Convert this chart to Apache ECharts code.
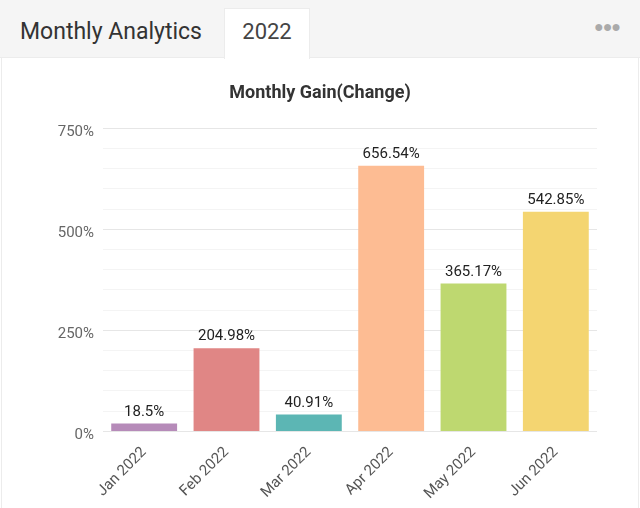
<!DOCTYPE html>
<html>
<head>
<meta charset="utf-8">
<script src="https://cdn.jsdelivr.net/npm/echarts@6/dist/echarts.min.js"></script>
<style>
  html, body { margin: 0; padding: 0; background: #fff; }
  body { width: 640px; height: 508px; position: relative; overflow: hidden; font-family: Roboto, "Noto Sans", sans-serif; }
  .header { position: absolute; left: 0; top: 0; width: 640px; height: 58px; background: #f5f5f5; border-bottom: 1px solid #ececec; box-sizing: border-box; }
  .title { position: absolute; left: 20px; top: 18px; font-size: 23px; color: #333; white-space: nowrap; }
  .tab { position: absolute; left: 224px; top: 8px; width: 86px; height: 51px; background: #fff; border: 1px solid #ececec; border-bottom: none; box-sizing: border-box; text-align: center; line-height: 46px; font-size: 22px; color: #444; }
  .dots { position: absolute; left: 594px; top: 17px; font-size: 16px; color: #aaa; letter-spacing: -1px; }
  .card { position: absolute; left: 1px; top: 58px; width: 636px; height: 450px; border-left: 1px solid #ececec; border-right: 1px solid #ececec; }
  #chart { position: absolute; left: 0; top: 58px; width: 640px; height: 450px; }
</style>
</head>
<body>
<div class="header">
  <div class="title">Monthly Analytics</div>
  <div class="tab">2022</div>
  <div class="dots">&#9679;&#9679;&#9679;</div>
</div>
<div class="card"></div>
<div id="chart"></div>
<script>
const months = ['Jan 2022', 'Feb 2022', 'Mar 2022', 'Apr 2022', 'May 2022', 'Jun 2022'];
const gains = [18.5, 204.98, 40.91, 656.54, 365.17, 542.85];
const barColors = ['#b68bb9', '#e08685', '#5cb6b4', '#fdbc93', '#bed870', '#f4d571'];

const chart = echarts.init(document.getElementById('chart'));

chart.setOption({
    animation: false,
    title: {
        text: 'Monthly Gain(Change)',
        left: 'center',
        top: 21,
        textStyle: { fontFamily: 'Roboto', fontSize: 18, fontWeight: 'bold', color: '#333' }
    },
    grid: { left: 103, right: 43, top: 70, height: 303 },
    xAxis: {
        type: 'category',
        data: months,
        axisLine: { show: false },
        axisTick: { show: false },
        axisLabel: {
            rotate: 45,
            interval: 0,
            margin: 19,
            fontFamily: 'Roboto',
            fontSize: 15,
            color: '#555'
        }
    },
    yAxis: {
        type: 'value',
        min: 0,
        max: 750,
        interval: 250,
        axisLine: { show: false },
        axisTick: { show: false },
        axisLabel: {
            formatter: '{value}%',
            margin: 9,
            verticalAlign: 'top',
            lineHeight: 9,
            fontFamily: 'Roboto',
            fontSize: 15,
            color: '#666'
        },
        splitLine: { lineStyle: { color: '#e6e6e6', width: 1 } },
        minorTick: { show: false, splitNumber: 5 },
        minorSplitLine: { show: true, lineStyle: { color: '#f4f4f4', width: 1 } }
    },
    series: [{
        type: 'bar',
        data: gains.map((v, i) => ({ value: v, itemStyle: { color: barColors[i] } })),
        barWidth: '80%',
        label: {
            show: true,
            position: 'top',
            distance: 4,
            formatter: '{c}%',
            fontFamily: 'Roboto',
            fontSize: 15,
            color: '#222'
        }
    }]
});
</script>
</body>
</html>
